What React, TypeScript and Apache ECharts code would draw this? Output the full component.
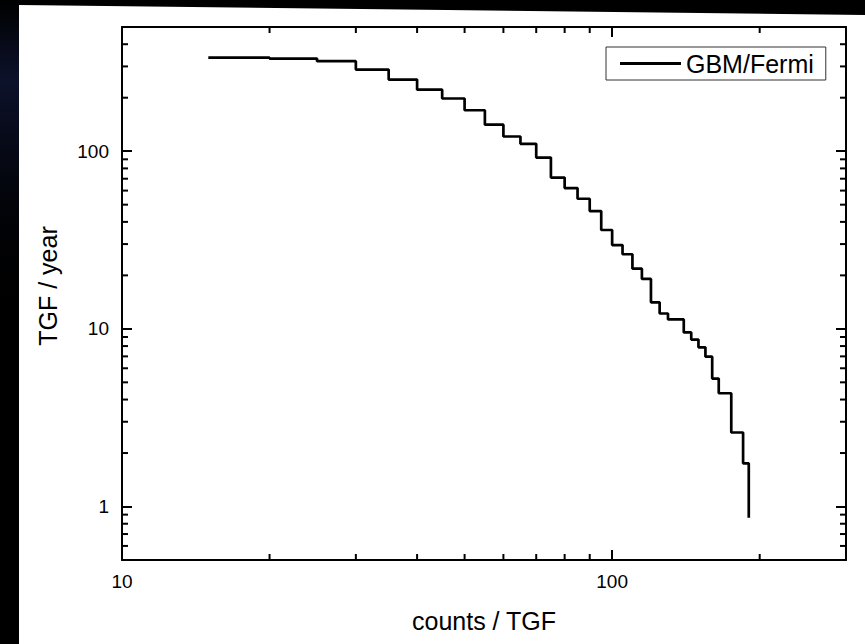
import React, { useEffect, useRef } from "react";
import * as echarts from "echarts";

// counts per TGF where each step begins
const counts = [15, 20, 25, 30, 35, 40, 45, 50, 55, 60, 65, 70, 75, 80, 85, 90, 95, 100, 105, 110, 115, 120, 125, 130, 140, 145, 150, 155, 160, 165, 175, 185, 190];
// TGF per year (cumulative rate)
const rates = [336, 332, 321, 288, 253, 222, 198, 170, 141, 121, 110, 92, 71, 62, 54, 46, 36, 29.6, 26.3, 21.8, 19.1, 14.1, 12.2, 11.3, 9.55, 8.7, 7.87, 6.97, 5.25, 4.34, 2.61, 1.75, 0.864];

const xMinorTicks = [20, 30, 40, 50, 60, 70, 80, 90, 200];
const yMinorTicks = [0.6, 0.7, 0.8, 0.9, 2, 3, 4, 5, 6, 7, 8, 9, 20, 30, 40, 50, 60, 70, 80, 90, 200, 300, 400];

const seriesName = "GBM/Fermi";
const xName = "counts / TGF";
const yName = "TGF / year";

const FONT = "'Liberation Sans', Arial, Helvetica, sans-serif";

const powFmt = (v: number) => {
  const l = Math.log10(v);
  return Math.abs(l - Math.round(l)) < 1e-6 ? String(Math.round(v)) : "";
};

export default function App() {
  const ref = useRef<HTMLDivElement>(null);
  useEffect(() => {
    if (!ref.current) return;
    const chart = echarts.init(ref.current, undefined, { renderer: "svg" });
    const axisLine = { show: true, lineStyle: { color: "#000", width: 2 } };
    const majorTick = { show: true, inside: true, length: 10, lineStyle: { color: "#000", width: 2 } };
    const tickLine = (x1: number, y1: number, x2: number, y2: number) => ({
      type: "line",
      shape: { x1, y1, x2, y2 },
      style: { stroke: "#000", lineWidth: 2 },
    });
    const option: any = {
      animation: false,
      backgroundColor: "#000",
      graphic: [
        {
          type: "rect",
          z: -11,
          silent: true,
          shape: { x: 0, y: 0, width: 19, height: 320 },
          style: {
            fill: new echarts.graphic.LinearGradient(0, 0, 0, 1, [
              { offset: 0, color: "rgba(14,20,48,0.0)" },
              { offset: 0.25, color: "rgba(14,20,48,0.9)" },
              { offset: 1, color: "rgba(0,0,0,0)" },
            ]),
          },
        },
        {
          type: "polygon",
          z: -10,
          silent: true,
          shape: { points: [[19, 5], [865, 15], [865, 644], [19, 644]] },
          style: { fill: "#fff" },
        },
      ],
      grid: { left: 122, top: 27, right: 19, bottom: 84, containLabel: false },
      legend: {
        data: [{ name: seriesName, icon: "rect" }],
        left: 606,
        top: 47,
        padding: [4, 12, 4, 14],
        itemWidth: 61,
        itemHeight: 3,
        itemGap: 0,
        borderColor: "#333",
        borderWidth: 1,
        borderRadius: 0,
        backgroundColor: "#fff",
        textStyle: { fontSize: 25, fontFamily: FONT, color: "#000" },
      },
      xAxis: [
        {
          type: "log",
          logBase: 10,
          min: 10,
          max: 300,
          position: "bottom",
          name: xName,
          nameLocation: "middle",
          nameGap: 48,
          nameTextStyle: { fontSize: 25, fontFamily: FONT, color: "#000" },
          axisLine,
          axisTick: majorTick,
          splitLine: { show: false },
          minorTick: { show: false },
          axisLabel: { fontSize: 19, fontFamily: FONT, color: "#000", margin: 12, formatter: powFmt },
        },
        {
          type: "log",
          logBase: 10,
          min: 10,
          max: 300,
          position: "top",
          axisLine,
          axisTick: majorTick,
          splitLine: { show: false },
          axisLabel: { show: false },
        },
      ],
      yAxis: [
        {
          type: "log",
          logBase: 10,
          min: 0.5,
          max: 500,
          position: "left",
          name: yName,
          nameLocation: "middle",
          nameGap: 62,
          nameRotate: 90,
          nameTextStyle: { fontSize: 25, fontFamily: FONT, color: "#000", padding: [0, 0, 0, 15] },
          axisLine,
          axisTick: majorTick,
          splitLine: { show: false },
          axisLabel: { fontSize: 19, fontFamily: FONT, color: "#000", margin: 13, formatter: powFmt },
        },
        {
          type: "log",
          logBase: 10,
          min: 0.5,
          max: 500,
          position: "right",
          axisLine,
          axisTick: majorTick,
          splitLine: { show: false },
          axisLabel: { show: false },
        },
      ],
      series: [
        {
          name: seriesName,
          type: "line",
          step: "end",
          symbol: "none",
          showSymbol: false,
          xAxisIndex: 0,
          yAxisIndex: 0,
          data: counts.map((c, i) => [c, rates[i]]),
          lineStyle: { color: "#000", width: 2.7 },
          itemStyle: { color: "#000" },
          z: 5,
        },
        {
          name: "xMinor",
          type: "custom",
          xAxisIndex: 0,
          yAxisIndex: 0,
          silent: true,
          clip: false,
          data: xMinorTicks.map((v) => [v, 1]),
          renderItem: (params: any, api: any) => {
            const cs = params.coordSys;
            const p = api.coord([api.value(0), 1]);
            const x = p[0];
            const top = cs.y;
            const bottom = cs.y + cs.height;
            return {
              type: "group",
              children: [tickLine(x, bottom, x, bottom - 6), tickLine(x, top, x, top + 6)],
            };
          },
        },
        {
          name: "yMinor",
          type: "custom",
          xAxisIndex: 0,
          yAxisIndex: 0,
          silent: true,
          clip: false,
          data: yMinorTicks.map((v) => [20, v]),
          renderItem: (params: any, api: any) => {
            const cs = params.coordSys;
            const p = api.coord([20, api.value(1)]);
            const y = p[1];
            const left = cs.x;
            const right = cs.x + cs.width;
            return {
              type: "group",
              children: [tickLine(left, y, left + 6, y), tickLine(right, y, right - 6, y)],
            };
          },
        },
      ],
    };
    chart.setOption(option);
    return () => chart.dispose();
  }, []);
  return (
    <div
      ref={ref}
      style={{ position: "fixed", left: 0, top: 0, width: 865, height: 644, background: "#000" }}
    />
  );
}
